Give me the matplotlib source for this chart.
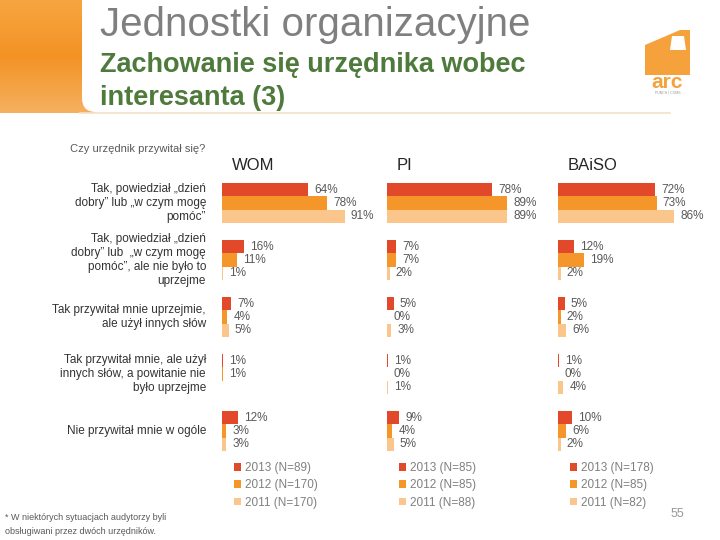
import numpy as np
import matplotlib
matplotlib.use("Agg")
import matplotlib.pyplot as plt
from matplotlib.patches import Patch, FancyBboxPatch, Polygon
from matplotlib.colors import LinearSegmentedColormap

plt.rcParams['font.family'] = ['Liberation Sans', 'DejaVu Sans']

# ---------------- data ----------------
categories = [
    "Tak, powiedział \u201edzień\ndobry\u201d lub \u201ew czym mogę\npomóc\u201d",
    "Tak, powiedział \u201edzień\ndobry\u201d lub  \u201ew czym mogę\npomóc\u201d, ale nie było to\nuprzejme",
    "Tak przywitał mnie uprzejmie,\nale użył innych słów",
    "Tak przywitał mnie, ale użył\ninnych słów, a powitanie nie\nbyło uprzejme",
    "Nie przywitał mnie w ogóle",
]
panels = ["WOM", "PI", "BAiSO"]
years = ["2013", "2012", "2011"]

wom_2013 = [64, 16, 7, 1, 12]
wom_2012 = [78, 11, 4, 1, 3]
wom_2011 = [91, 1, 5, np.nan, 3]

pi_2013 = [78, 7, 5, 1, 9]
pi_2012 = [89, 7, 0, 0, 4]
pi_2011 = [89, 2, 3, 1, 5]

baiso_2013 = [72, 12, 5, 1, 10]
baiso_2012 = [73, 19, 2, 0, 6]
baiso_2011 = [86, 2, 6, 4, 2]

wom_n = ["2013 (N=89)", "2012 (N=170)", "2011 (N=170)"]
pi_n = ["2013 (N=85)", "2012 (N=85)", "2011 (N=88)"]
baiso_n = ["2013 (N=178)", "2012 (N=85)", "2011 (N=82)"]

panel_data = [
    (wom_2013, wom_2012, wom_2011, wom_n),
    (pi_2013, pi_2012, pi_2011, pi_n),
    (baiso_2013, baiso_2012, baiso_2011, baiso_n),
]

colors = ["#E2492A", "#F5962B", "#FBC68C"]

# ---------------- figure ----------------
W, H = 720, 540
fig = plt.figure(figsize=(7.2, 5.4), dpi=100)

def fx(px):
    return px / W

def fy(py):
    return 1 - py / H

# background / decoration axes in pixel coords
bg = fig.add_axes([0, 0, 1, 1], zorder=0)
bg.set_xlim(0, W)
bg.set_ylim(H, 0)
bg.axis("off")

grad = np.linspace(0, 1, 120).reshape(-1, 1)
cm = LinearSegmentedColormap.from_list("o", ["#F7A540", "#F39325", "#F6B060"])
bg.imshow(grad, extent=(0, 95, 113, 0), cmap=cm, aspect="auto", zorder=1)
bg.add_patch(FancyBboxPatch((82, -40), 700, 152, boxstyle="round,pad=0,rounding_size=14",
                            fc="white", ec="none", zorder=2))
bg.add_patch(FancyBboxPatch((0, 113), 720, 60, boxstyle="square,pad=0",
                            fc="white", ec="none", zorder=2))
bg.plot([80, 670], [112.5, 112.5], color="#F1E3CC", lw=1.2, zorder=3)

# logo
bg.add_patch(Polygon([(645, 45), (680, 30), (690, 30), (690, 75), (645, 75)],
                     closed=True, fc="#F5A23C", ec="none", zorder=3))
bg.add_patch(Polygon([(672, 36), (684, 36), (686, 50), (670, 50)],
                     closed=True, fc="white", ec="none", zorder=4))
fig.text(fx(667), fy(83), "arc", fontsize=15, color="#F5A23C", ha="center", va="center",
         fontweight="bold")
fig.text(fx(668), fy(93), "PUNCH I COMS", fontsize=2.5, color="#999999", ha="center", va="center")

# titles
fig.text(fx(100), fy(25), "Jednostki organizacyjne", fontsize=29, color="#7F7F7F",
         ha="left", va="center")
fig.text(fx(100), fy(65), "Zachowanie się urzędnika wobec", fontsize=19.5, color="#4E7A3C",
         ha="left", va="center", fontweight="bold")
fig.text(fx(100), fy(98), "interesanta (3)", fontsize=19.5, color="#4E7A3C",
         ha="left", va="center", fontweight="bold")

fig.text(fx(205), fy(149), "Czy urzędnik przywitał się?", fontsize=8, color="#595959",
         ha="right", va="center")

# ---------------- panels ----------------
panel_x0 = [222, 387, 558]
scale = 1.35  # px per percent
ax_w = 100 * scale
gap = 57.0
top_px, bot_px = 175, 460
c0 = 203.0
ylim_top = (top_px - c0) / gap
ylim_bot = (bot_px - c0) / gap
bar_h = 13.4 / gap

idx = np.arange(len(categories))
for p, (name, x0, (v13, v12, v11, labs)) in enumerate(zip(panels, panel_x0, panel_data)):
    ax = fig.add_axes([fx(x0), fy(bot_px), ax_w / W, (bot_px - top_px) / H], zorder=5)
    ax.set_xlim(0, 100)
    ax.set_ylim(ylim_bot, ylim_top)
    ax.axis("off")
    ax.patch.set_alpha(0)
    series = [v13, v12, v11]
    for j, vals in enumerate(series):
        vals = np.array(vals, dtype=float)
        ys = idx + (j - 1) * bar_h
        ok = ~np.isnan(vals)
        ax.barh(ys[ok], vals[ok], height=bar_h, color=colors[j], edgecolor="none")
        for y, v in zip(ys[ok], vals[ok]):
            ax.text(v + 4.5, y, f"{int(v)}%", fontsize=8.5, color="#595959",
                    ha="left", va="center", clip_on=False)
    fig.text(fx(x0 + 10), fy(165), name, fontsize=12, color="#262626", ha="left", va="center")
    handles = [Patch(facecolor=c, edgecolor="none") for c in colors]
    ax.legend(handles, labs, loc="upper left",
              bbox_to_anchor=(fx(x0 + 12), fy(462)), bbox_transform=fig.transFigure,
              frameon=False, fontsize=8.5, labelcolor="#808080",
              handlelength=0.6, handleheight=0.6, handletextpad=0.3,
              labelspacing=0.45, borderpad=0, borderaxespad=0)

# category labels
for i, cat in enumerate(categories):
    fig.text(fx(206), fy(c0 + gap * i), cat, fontsize=8.5, color="#333333",
             ha="right", va="center", linespacing=1.2, multialignment="right")

# footnote and page number
fig.text(fx(5), fy(518), "* W niektórych sytuacjach audytorzy byli", fontsize=6.5,
         color="#595959", ha="left", va="center")
fig.text(fx(5), fy(531), "obsługiwani przez dwóch urzędników.", fontsize=6.5,
         color="#595959", ha="left", va="center")
fig.text(fx(677), fy(514), "55", fontsize=9, color="#999999", ha="center", va="center")

fig.savefig("out.png", dpi=100)
